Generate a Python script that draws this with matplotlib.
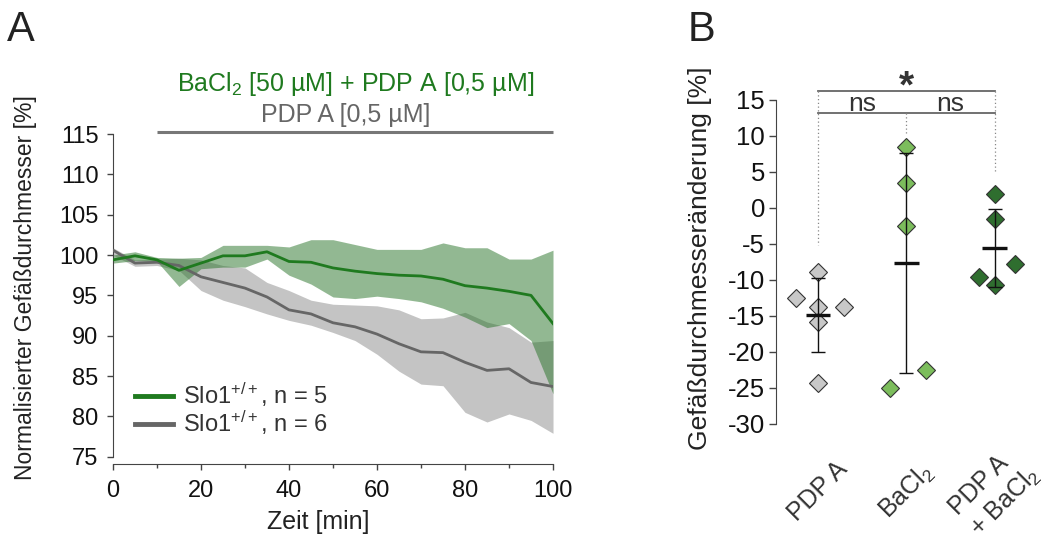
#!/usr/bin/env python3
"""Vessel diameter time course (A) and end-point change per treatment (B)."""

import matplotlib

matplotlib.use("Agg")
import matplotlib.pyplot as plt
import numpy as np
from matplotlib.lines import Line2D

# ---- panel A: time course, mean with SEM band -------------------------------
TIME_MIN = [0, 5, 10, 15, 20, 25, 30, 35, 40, 45, 50,
            55, 60, 65, 70, 75, 80, 85, 90, 95, 100]

BA_MEAN = [99.4, 99.9, 99.4, 98.1, 99.0, 99.9, 99.9, 100.4, 99.2, 99.1, 98.4,
           98.0, 97.7, 97.5, 97.4, 97.0, 96.2, 95.9, 95.5, 95.0, 91.5]
BA_UPPER = [100.0, 100.4, 99.7, 99.6, 99.7, 101.2, 101.2, 101.2, 101.0, 101.9, 101.9,
            101.3, 100.7, 100.7, 100.7, 101.5, 100.9, 100.9, 99.5, 99.5, 100.6]
BA_LOWER = [99.0, 99.3, 99.2, 96.1, 98.3, 98.5, 98.5, 99.5, 97.5, 96.4, 94.8,
            94.6, 94.9, 94.6, 94.2, 93.4, 92.3, 91.0, 91.5, 89.4, 82.8]

PDP_MEAN = [100.6, 99.0, 99.1, 98.7, 97.3, 96.6, 95.9, 94.8, 93.2, 92.7, 91.6,
            91.1, 90.2, 89.0, 88.0, 87.9, 86.7, 85.7, 85.9, 84.2, 83.7]
PDP_UPPER = [100.9, 99.4, 99.5, 99.6, 99.4, 98.7, 98.4, 96.6, 95.6, 94.4, 93.9,
             93.8, 93.7, 93.2, 92.1, 92.2, 92.9, 91.7, 91.0, 89.2, 89.4]
PDP_LOWER = [100.0, 98.6, 98.7, 98.1, 95.6, 94.4, 93.6, 92.7, 91.9, 91.3, 90.4,
             89.4, 87.7, 85.6, 84.0, 83.8, 80.5, 79.3, 80.3, 79.5, 77.9]

LEGEND_LABELS = [r"Slo1$^{\mathregular{+/+}}$, n = 5", r"Slo1$^{\mathregular{+/+}}$, n = 6"]
DRUG_START, DRUG_END = 10, 100

# ---- panel B: change in diameter per animal ---------------------------------
GROUPS = ["PDP A", r"BaCl$_{\mathregular{2}}$", "PDP A\n" + r"+ BaCl$_{\mathregular{2}}$"]
PDP_VALUES = [-8.9, -12.5, -13.8, -13.7, -15.9, -24.3]
BA_VALUES = [8.4, 3.5, -2.5, -25.0, -22.5]
COMBO_VALUES = [1.9, -1.6, -9.6, -10.7, -7.8]

PDP_JITTER = [0, -0.25, 0, 0.29, 0, 0]
BA_JITTER = [0, 0, 0, -0.19, 0.22]
COMBO_JITTER = [0, 0, -0.18, 0, 0.23]

GREEN = "#1f7a1f"
GREEN_FILL = "#277327"
GREY = "#666666"
GREY_FILL = "#c4c4c4"
TEXT = "#222222"

plt.rcParams.update(
    {
        "font.family": ["Liberation Sans", "DejaVu Sans"],
        "mathtext.fontset": "custom",
        "mathtext.rm": "Liberation Sans",
        "mathtext.it": "Liberation Sans:italic",
        "mathtext.bf": "Liberation Sans:bold",
        "axes.unicode_minus": False,
        "font.size": 17,
        "text.color": TEXT,
        "axes.labelcolor": TEXT,
        "xtick.color": "#444444",
        "ytick.color": "#444444",
        "xtick.labelcolor": "#111111",
        "ytick.labelcolor": "#111111",
        "axes.edgecolor": "#444444",
    }
)

fig = plt.figure(figsize=(10.44, 5.41), dpi=100)

# ---------------- panel A ----------------
ax = fig.add_axes([0.1082, 0.1558, 0.4215, 0.5965])
t = np.array(TIME_MIN)
ax.fill_between(t, PDP_LOWER, PDP_UPPER, color=GREY_FILL, linewidth=0, zorder=1)
ax.fill_between(t, BA_LOWER, BA_UPPER, color=GREEN_FILL, alpha=0.5, linewidth=0, zorder=2)
ax.plot(t, PDP_MEAN, color=GREY, linewidth=2.0, zorder=3)
ax.plot(t, BA_MEAN, color=GREEN, linewidth=2.0, zorder=4)

ax.set_xlim(0, 100)
ax.set_ylim(75, 115)
ax.set_xticks(range(0, 101, 20))
ax.set_xticks(range(10, 100, 20), minor=True)
ax.set_yticks(range(75, 116, 5))
ax.tick_params(axis="both", which="major", labelsize=17, length=4.5, width=1)
ax.tick_params(axis="x", which="major", pad=7)
ax.tick_params(axis="y", which="major", pad=6)
ax.tick_params(axis="x", which="minor", length=3, width=1)
for side in ("top", "right"):
    ax.spines[side].set_visible(False)
ax.spines["bottom"].set_position(("outward", 5))

ax.set_xlabel("Zeit [min]", fontsize=18)
ax.xaxis.set_label_coords(0.466, -0.165)
ax.set_ylabel("Normalisierter Gefäßdurchmesser [%]", fontsize=16.5)
ax.yaxis.set_label_coords(-0.172, 0.525)

ax.plot([DRUG_START, DRUG_END], [115.3, 115.3], color="#777777", linewidth=2.2,
        clip_on=False, solid_capstyle="butt")
ax.text(52.9, 117.4, "PDP A [0,5 µM]", color=GREY, fontsize=18, ha="center", va="center")
ax.text(55.2, 121.2, r"BaCl$_{\mathregular{2}}$ [50 µM] + PDP A [0,5 µM]", color=GREEN,
        fontsize=18, ha="center", va="center")

handles = [Line2D([], [], color=GREEN, linewidth=3.5),
           Line2D([], [], color=GREY, linewidth=3.5)]
ax.legend(handles, LEGEND_LABELS, loc="lower left", bbox_to_anchor=(0.05, 0.06),
          frameon=False, fontsize=17, handlelength=1.6, handletextpad=0.45,
          labelspacing=0.0, borderpad=0, borderaxespad=0, labelcolor="#333333")

fig.text(0.007, 0.982, "A", fontsize=30, ha="left", va="top", color="#222222")

# ---------------- panel B ----------------
bx = fig.add_axes([0.7433, 0.2163, 0.2519, 0.5989])
series = [
    (PDP_VALUES, PDP_JITTER, "#c8c8c8"),
    (BA_VALUES, BA_JITTER, "#7cbd5c"),
    (COMBO_VALUES, COMBO_JITTER, "#2f6e2f"),
]
for pos, (values, jitter, color) in enumerate(series):
    values = np.array(values)
    bx.plot(pos + np.array(jitter), values, linestyle="none", marker="D", markersize=9,
            markerfacecolor=color, markeredgecolor="#333333", markeredgewidth=0.8,
            zorder=2)
    mean = values.mean()
    sd = values.std(ddof=1)
    bx.errorbar(pos, mean, yerr=sd, color="#111111", linewidth=1, capsize=5,
                capthick=1, zorder=3)
    bx.plot([pos - 0.14, pos + 0.14], [mean, mean], color="#111111", linewidth=2.4,
            zorder=4, solid_capstyle="butt")

bx.set_xlim(-0.475, 2.5)
bx.set_ylim(-30, 15)
bx.set_yticks(range(-30, 16, 5))
bx.set_xticks([])
bx.tick_params(axis="y", labelsize=18.5, length=5, width=1, pad=3)
for side in ("top", "right", "bottom"):
    bx.spines[side].set_visible(False)
bx.set_ylabel("Gefäßdurchmesseränderung [%]", fontsize=19)
bx.yaxis.set_label_coords(-0.245, 0.51)

for pos, label in enumerate(GROUPS):
    bx.text(pos, -39.4, label, rotation=45, ha="center", va="center", fontsize=18,
            color="#333333", clip_on=False, multialignment="left")

# significance brackets
bracket = dict(color="#666666", linewidth=1.3, clip_on=False)
dots = dict(color="#888888", linewidth=0.9, linestyle=(0, (1, 2)), clip_on=False)
bx.plot([0, 2], [16.2, 16.2], **bracket)
bx.plot([0, 2], [13.2, 13.2], **bracket)
bx.plot([0, 0], [16.2, -5.1], **dots)
bx.plot([1, 1], [13.2, 10.4], **dots)
bx.plot([2, 2], [16.2, 4.9], **dots)
bx.text(0.5, 14.5, "ns", ha="center", va="center", fontsize=19, color="#333333")
bx.text(1.5, 14.5, "ns", ha="center", va="center", fontsize=19, color="#333333")
bx.text(1.0, 16.8, "*", ha="center", va="center", fontsize=28, fontweight="bold",
        color="#333333")

fig.text(0.659, 0.982, "B", fontsize=30, ha="left", va="top", color="#222222")

fig.savefig("out.png", dpi=100)
